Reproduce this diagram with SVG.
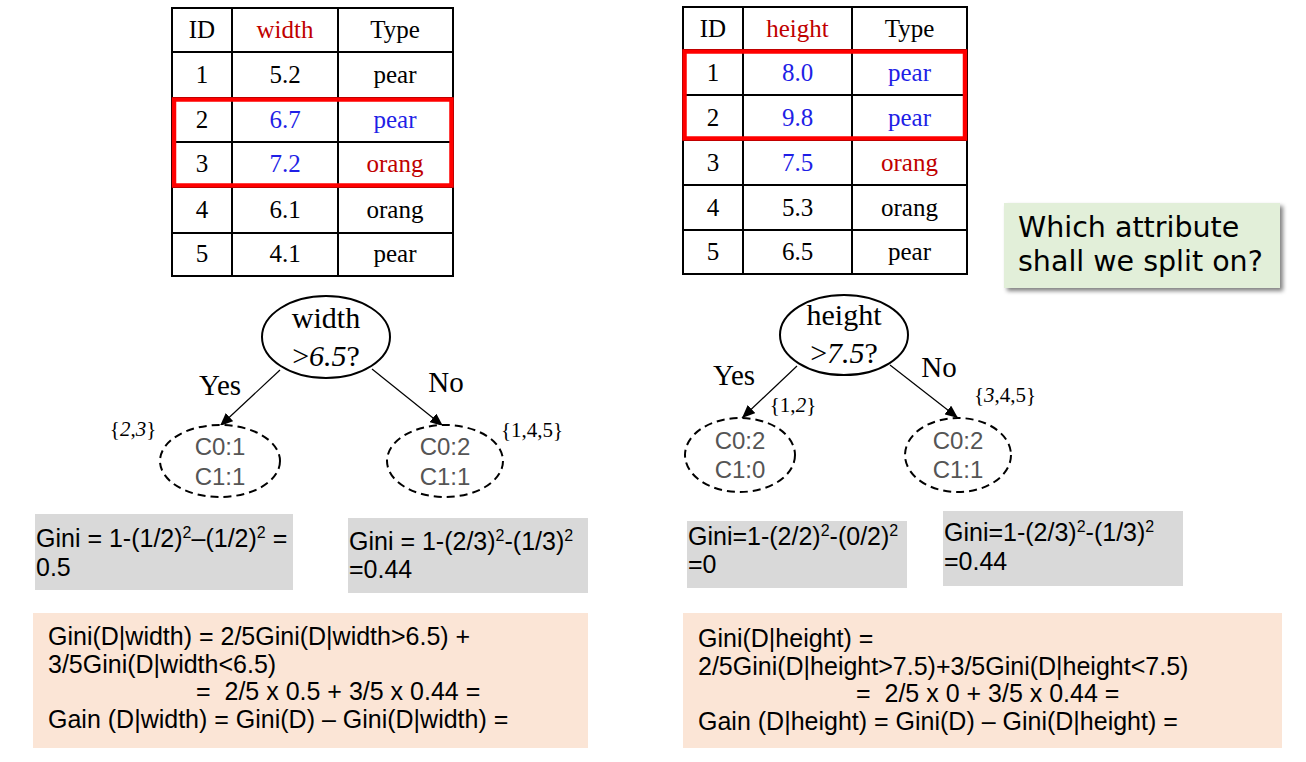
<svg xmlns="http://www.w3.org/2000/svg" width="1306" height="762" viewBox="0 0 1306 762">
<style>
.tb{fill:none;stroke:#000;stroke-width:2}
.tl{stroke:#000;stroke-width:2}
.rb{fill:none;stroke:#FF0000;stroke-width:4.5}
.st{font-family:"Liberation Serif",serif;font-size:25px;text-anchor:middle;fill:#000}
.red{fill:#C00000}
.blue{fill:#1F1FE6}
.nd{fill:#fff;stroke:#000;stroke-width:2}
.dn{fill:#fff;stroke:#000;stroke-width:2;stroke-dasharray:8 5}
.nt{font-family:"Liberation Serif",serif;font-size:30px;text-anchor:middle;fill:#000}
.ct{font-family:"Liberation Sans",Arial,sans-serif;font-size:24px;text-anchor:middle;fill:#555}
.lb{font-family:"Liberation Serif",serif;font-size:29px;text-anchor:middle;fill:#000}
.set{font-family:"Liberation Serif",serif;font-size:21px;text-anchor:middle;fill:#000}
.gb{fill:#D9D9D9}
.ob{fill:#FBE5D6}
.tx{font-family:"Liberation Sans",Arial,sans-serif;font-size:25px;fill:#000}
.sup{font-size:16px}
.cn{stroke:#000;stroke-width:1.2;fill:none;marker-end:url(#arr)}
.gt{font-family:"Comic Sans MS","DejaVu Sans",sans-serif;font-size:28.5px;fill:#000}
</style>
<defs>
<marker id="arr" viewBox="0 0 13 11" refX="13" refY="5.5" markerWidth="13" markerHeight="11" markerUnits="userSpaceOnUse" orient="auto">
<path d="M0,0 L13,5.5 L0,11 z" fill="#000"/>
</marker>
<filter id="sh" x="-10%" y="-20%" width="130%" height="150%">
<feGaussianBlur in="SourceAlpha" stdDeviation="2"/>
<feOffset dx="3" dy="3" result="b"/>
<feComponentTransfer><feFuncA type="linear" slope="0.5"/></feComponentTransfer>
<feMerge><feMergeNode/><feMergeNode in="SourceGraphic"/></feMerge>
</filter>
</defs>

<!-- Left table -->
<g id="table-width">
<rect class="tb" x="172" y="8" width="281" height="268"/>
<line class="tl" x1="232" y1="8" x2="232" y2="276"/>
<line class="tl" x1="338" y1="8" x2="338" y2="276"/>
<line class="tl" x1="172" y1="52" x2="453" y2="52"/>
<line class="tl" x1="172" y1="98" x2="453" y2="98"/>
<line class="tl" x1="172" y1="142" x2="453" y2="142"/>
<line class="tl" x1="172" y1="187" x2="453" y2="187"/>
<line class="tl" x1="172" y1="233" x2="453" y2="233"/>
<text class="st" x="202" y="38">ID</text>
<text class="st red" x="285" y="38">width</text>
<text class="st" x="395" y="38">Type</text>
<text class="st" x="202" y="83">1</text>
<text class="st" x="285" y="83">5.2</text>
<text class="st" x="395" y="83">pear</text>
<text class="st" x="202" y="128">2</text>
<text class="st blue" x="285" y="128">6.7</text>
<text class="st blue" x="395" y="128">pear</text>
<text class="st" x="202" y="172">3</text>
<text class="st blue" x="285" y="172">7.2</text>
<text class="st red" x="395" y="172">orang</text>
<text class="st" x="202" y="218">4</text>
<text class="st" x="285" y="218">6.1</text>
<text class="st" x="395" y="218">orang</text>
<text class="st" x="202" y="262">5</text>
<text class="st" x="285" y="262">4.1</text>
<text class="st" x="395" y="262">pear</text>
<rect class="rb" x="174" y="99.5" width="277.5" height="86"/>
</g>

<!-- Right table -->
<g id="table-height">
<rect class="tb" x="683" y="7" width="284" height="267"/>
<line class="tl" x1="743" y1="7" x2="743" y2="274"/>
<line class="tl" x1="852" y1="7" x2="852" y2="274"/>
<line class="tl" x1="683" y1="50" x2="967" y2="50"/>
<line class="tl" x1="683" y1="95" x2="967" y2="95"/>
<line class="tl" x1="683" y1="140" x2="967" y2="140"/>
<line class="tl" x1="683" y1="185" x2="967" y2="185"/>
<line class="tl" x1="683" y1="230" x2="967" y2="230"/>
<text class="st" x="713" y="36.5">ID</text>
<text class="st red" x="797.5" y="36.5">height</text>
<text class="st" x="909.5" y="36.5">Type</text>
<text class="st" x="713" y="81">1</text>
<text class="st blue" x="797.5" y="81">8.0</text>
<text class="st blue" x="909.5" y="81">pear</text>
<text class="st" x="713" y="126">2</text>
<text class="st blue" x="797.5" y="126">9.8</text>
<text class="st blue" x="909.5" y="126">pear</text>
<text class="st" x="713" y="171">3</text>
<text class="st blue" x="797.5" y="171">7.5</text>
<text class="st red" x="909.5" y="171">orang</text>
<text class="st" x="713" y="216">4</text>
<text class="st" x="797.5" y="216">5.3</text>
<text class="st" x="909.5" y="216">orang</text>
<text class="st" x="713" y="260">5</text>
<text class="st" x="797.5" y="260">6.5</text>
<text class="st" x="909.5" y="260">pear</text>
<rect class="rb" x="684.5" y="51.5" width="280.5" height="87"/>
</g>

<!-- Connectors -->
<g id="connectors">
<line class="cn" x1="280" y1="370" x2="220" y2="426"/>
<line class="cn" x1="372" y1="369" x2="443" y2="426"/>
<line class="cn" x1="797" y1="366" x2="742" y2="418"/>
<line class="cn" x1="890" y1="365" x2="958" y2="418"/>
<text class="lb" x="220" y="395">Yes</text>
<text class="lb" x="446" y="392">No</text>
<text class="lb" x="734" y="385">Yes</text>
<text class="lb" x="939" y="377">No</text>
<text class="set" x="133" y="436">{<tspan font-style="italic">2</tspan>,<tspan font-style="italic">3</tspan>}</text>
<text class="set" x="532" y="437">{1,4,5}</text>
<text class="set" x="793" y="412">{1,<tspan font-style="italic">2</tspan>}</text>
<text class="set" x="1005" y="402">{<tspan font-style="italic">3</tspan>,4,5}</text>
</g>

<!-- Left tree nodes -->
<g id="node-width">
<ellipse class="nd" cx="326" cy="337" rx="64" ry="41"/>
<text class="nt" x="326" y="328">width</text>
<text class="nt" x="326" y="366">&gt;<tspan font-style="italic">6.5</tspan>?</text>
</g>
<g id="node-width-yes">
<ellipse class="dn" cx="220" cy="461" rx="60" ry="36"/>
<text class="ct" x="220" y="455">C0:1</text>
<text class="ct" x="220" y="485">C1:1</text>
</g>
<g id="node-width-no">
<ellipse class="dn" cx="445" cy="461" rx="58" ry="36"/>
<text class="ct" x="445" y="455">C0:2</text>
<text class="ct" x="445" y="485">C1:1</text>
</g>

<!-- Right tree nodes -->
<g id="node-height">
<ellipse class="nd" cx="844" cy="335" rx="64" ry="40"/>
<text class="nt" x="844" y="325">height</text>
<text class="nt" x="844" y="363">&gt;<tspan font-style="italic">7.5</tspan>?</text>
</g>
<g id="node-height-yes">
<ellipse class="dn" cx="740" cy="455" rx="55" ry="37"/>
<text class="ct" x="740" y="449">C0:2</text>
<text class="ct" x="740" y="478">C1:0</text>
</g>
<g id="node-height-no">
<ellipse class="dn" cx="958" cy="455" rx="53" ry="37"/>
<text class="ct" x="958" y="449">C0:2</text>
<text class="ct" x="958" y="478">C1:1</text>
</g>

<!-- Gini boxes left -->
<g id="gini-width-yes">
<rect class="gb" x="35" y="514" width="258" height="76"/>
<text class="tx" x="36" y="547">Gini = 1-(1/2)<tspan class="sup" dy="-9">2</tspan><tspan dy="9">–(1/2)</tspan><tspan class="sup" dy="-9">2</tspan><tspan dy="9"> =</tspan></text>
<text class="tx" x="36" y="576">0.5</text>
</g>
<g id="gini-width-no">
<rect class="gb" x="348" y="518" width="240" height="75"/>
<text class="tx" x="349" y="550">Gini = 1-(2/3)<tspan class="sup" dy="-9">2</tspan><tspan dy="9">-(1/3)</tspan><tspan class="sup" dy="-9">2</tspan></text>
<text class="tx" x="349" y="578">=0.44</text>
</g>
<g id="gain-width">
<rect class="ob" x="33" y="613" width="555" height="135"/>
<text class="tx" x="48" y="645">Gini(D|width) = 2/5Gini(D|width&gt;6.5) +</text>
<text class="tx" x="48" y="673">3/5Gini(D|width&lt;6.5)</text>
<text class="tx" x="196" y="700" xml:space="preserve">=  2/5 x 0.5 + 3/5 x 0.44 =</text>
<text class="tx" x="48" y="728">Gain (D|width) = Gini(D) – Gini(D|width) =</text>
</g>

<!-- Gini boxes right -->
<g id="gini-height-yes">
<rect class="gb" x="687" y="521" width="220" height="67"/>
<text class="tx" x="688" y="545">Gini=1-(2/2)<tspan class="sup" dy="-9">2</tspan><tspan dy="9">-(0/2)</tspan><tspan class="sup" dy="-9">2</tspan></text>
<text class="tx" x="688" y="573">=0</text>
</g>
<g id="gini-height-no">
<rect class="gb" x="943" y="511" width="240" height="75"/>
<text class="tx" x="944" y="541">Gini=1-(2/3)<tspan class="sup" dy="-9">2</tspan><tspan dy="9">-(1/3)</tspan><tspan class="sup" dy="-9">2</tspan></text>
<text class="tx" x="944" y="570">=0.44</text>
</g>
<g id="gain-height">
<rect class="ob" x="683" y="613" width="599" height="135"/>
<text class="tx" x="698" y="647">Gini(D|height) =</text>
<text class="tx" x="698" y="675">2/5Gini(D|height&gt;7.5)+3/5Gini(D|height&lt;7.5)</text>
<text class="tx" x="856" y="702" xml:space="preserve">=  2/5 x 0 + 3/5 x 0.44 =</text>
<text class="tx" x="698" y="730">Gain (D|height) = Gini(D) – Gini(D|height) =</text>
</g>

<!-- Question callout -->
<g id="question">
<rect x="1004" y="203" width="276" height="85" fill="#E2EFD9" filter="url(#sh)"/>
<text class="gt" x="1018" y="237">Which attribute</text>
<text class="gt" x="1018" y="271">shall we split on?</text>
</g>
</svg>
